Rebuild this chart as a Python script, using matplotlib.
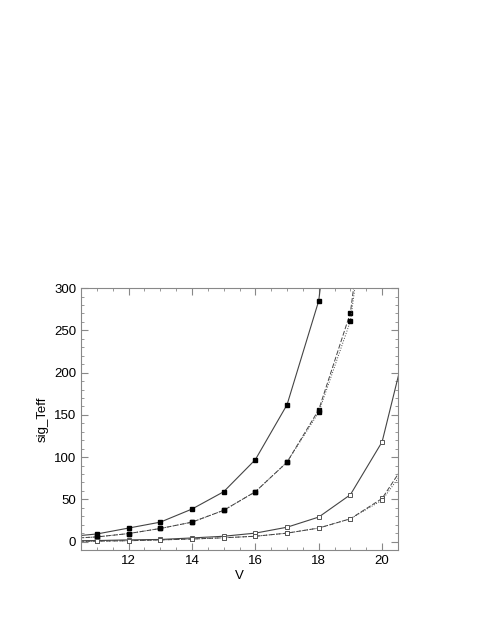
import numpy as np
import matplotlib
matplotlib.use('Agg')
import matplotlib.pyplot as plt
from matplotlib.ticker import MultipleLocator

plt.rcParams['font.family'] = ['Liberation Sans', 'DejaVu Sans']

# V magnitudes (10 and 21 lie outside the axes, only used so the lines run to the edges)
V = [10, 11, 12, 13, 14, 15, 16, 17, 18, 19, 20, 21]

# filled squares, solid line
sig_a = [5.5, 9, 16, 23, 38.5, 59, 97, 162, 285, 600, 1200, 2400]
# filled squares, dashed / dotted pair
sig_b1 = [3.5, 5.5, 9.5, 15.5, 23, 37, 59, 94, 156, 271, 560, 1100]
sig_b2 = [3.5, 5.5, 9.5, 15.5, 23, 37, 59, 94, 153, 261, 540, 1050]
# open squares, solid line
sig_c = [0.8, 1.2, 2, 2.5, 4.3, 6.3, 10, 17, 29, 55.5, 118, 270]
# open squares, dashed / dotted pair
sig_d1 = [0.3, 0.5, 1, 2, 3, 4.5, 6.3, 10, 16, 27, 51, 108]
sig_d2 = [0.3, 0.5, 1, 2, 3, 4.5, 6.3, 10, 16, 27, 49, 100]

fig = plt.figure(figsize=(4.8, 6.21), dpi=100)
ax = fig.add_axes([0.169, 0.1143, 0.66, 0.4217])

lc = '#444444'
ax.plot(V, sig_a, '-', color=lc, lw=0.8, marker='s', ms=3.5, mfc='black', mec='black')
ax.plot(V, sig_b1, '--', color=lc, lw=0.7, dashes=(5, 2), marker='s', ms=3.5, mfc='black', mec='black')
ax.plot(V, sig_b2, ':', color=lc, lw=0.7, marker='s', ms=3.5, mfc='black', mec='black')
ax.plot(V, sig_c, '-', color=lc, lw=0.8, marker='s', ms=3.5, mfc='white', mec='#555555', mew=0.7)
ax.plot(V, sig_d1, '--', color=lc, lw=0.7, dashes=(5, 2), marker='s', ms=3.5, mfc='white', mec='#555555', mew=0.7)
ax.plot(V, sig_d2, ':', color=lc, lw=0.7, marker='s', ms=3.5, mfc='white', mec='#555555', mew=0.7)

ax.set_xlim(10.5, 20.5)
ax.set_ylim(-10, 300)
ax.xaxis.set_major_locator(MultipleLocator(2))
ax.xaxis.set_minor_locator(MultipleLocator(0.5))
ax.yaxis.set_major_locator(MultipleLocator(50))
ax.yaxis.set_minor_locator(MultipleLocator(10))

for s in ax.spines.values():
    s.set_color('#888888')
    s.set_linewidth(0.8)
ax.tick_params(which='both', direction='in', top=True, right=True, color='#888888', labelsize=9.5)
ax.tick_params(which='major', length=5)
ax.tick_params(which='minor', length=2.5)

ax.set_xlabel('V', fontsize=9.5, labelpad=2)
ax.set_ylabel('sig_Teff', fontsize=9.5, labelpad=4)

fig.savefig('out.png', dpi=100)
